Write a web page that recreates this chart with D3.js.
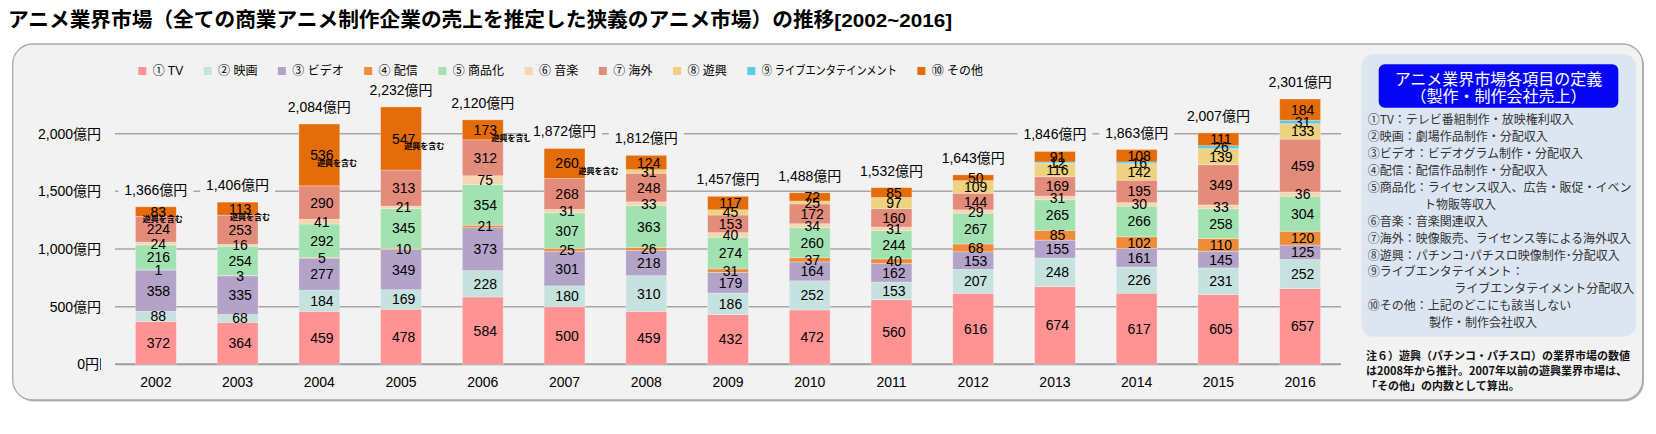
<!DOCTYPE html>
<html><head><meta charset="utf-8">
<script src="https://cdn.jsdelivr.net/npm/d3@7"></script>
<style>
html,body{margin:0;padding:0;background:#fff;}
svg{display:block;}
text{font-family:'Liberation Sans','Noto Sans CJK JP',sans-serif;}
.jp{font-family:'Noto Sans CJK JP','Liberation Sans',sans-serif;}
</style></head>
<body>
<svg id="chart" width="1656" height="434"></svg>
<script>
// ---------- DATA ----------
const years = ["2002","2003","2004","2005","2006","2007","2008","2009","2010","2011","2012","2013","2014","2015","2016"];
const seriesNames = ["① TV","② 映画","③ ビデオ","④ 配信","⑤ 商品化","⑥ 音楽","⑦ 海外","⑧ 遊興","⑨ ライブエンタテインメント","⑩ その他"];
const seriesColors = ["#ff9393","#c6e2de","#b3a3c8","#ee8c3a","#a2e2b1","#f6d5b2","#e38c7c","#eed27f","#5cc9e9","#e46c0a"];
const tv      = [372,364,459,478,584,500,459,432,472,560,616,674,617,605,657];
const eiga    = [ 88, 68,184,169,228,180,310,186,252,153,207,248,226,231,252];
const video   = [358,335,277,349,373,301,218,179,164,162,153,155,161,145,125];
const haishin = [  1,  3,  5, 10, 21, 25, 26, 31, 37, 40, 68, 85,102,110,120];
const shohin  = [216,254,292,345,354,307,363,274,260,244,267,265,266,258,304];
const ongaku  = [ 24, 16, 41, 21, 75, 31, 33, 40, 34, 31, 29, 31, 30, 33, 36];
const kaigai  = [224,253,290,313,312,268,248,153,172,160,144,169,195,349,459];
const yukyo   = [  0,  0,  0,  0,  0,  0, 31, 45, 25, 97,109,116,142,139,133];
const live    = [  0,  0,  0,  0,  0,  0,  0,  0,  0,  0,  0, 12, 16, 26, 31];
const sonota  = [ 83,113,536,547,173,260,124,117, 72, 85, 50, 91,108,111,184];
const series = [tv,eiga,video,haishin,shohin,ongaku,kaigai,yukyo,live,sonota];
const yTickValues = [0,500,1000,1500,2000];
const yTickLabels = ["0円","500億円","1,000億円","1,500億円","2,000億円"];
const titleMain = "アニメ業界市場（全ての商業アニメ制作企業の売上を推定した狭義のアニメ市場）の推移";
const titleSub = "[2002~2016]";
const yukyoNote = "遊興を含む";
const defTitle = ["アニメ業界市場各項目の定義","（製作・制作会社売上）"];
const defLines = [
  ["①TV：テレビ番組制作・放映権利収入",0],
  ["②映画：劇場作品制作・分配収入",0],
  ["③ビデオ：ビデオグラム制作・分配収入",0],
  ["④配信：配信作品制作・分配収入",0],
  ["⑤商品化：ライセンス収入、広告・販促・イベン",0],
  ["ト物販等収入",1],
  ["⑥音楽：音楽関連収入",0],
  ["⑦海外：映像販売、ライセンス等による海外収入",0],
  ["⑧遊興：パチンコ･パチスロ映像制作･分配収入",0],
  ["⑨ライブエンタテイメント：",0],
  ["ライブエンタテイメント分配収入",2],
  ["⑩その他：上記のどこにも該当しない",0],
  ["製作・制作会社収入",3]
];
const noteLines = ["注６）遊興（パチンコ・パチスロ）の業界市場の数値","は2008年から推計。2007年以前の遊興業界市場は、","「その他」の内数として算出。"];

// ---------- LAYOUT ----------
const svg = d3.select("#chart");
const keys = series.map((_,i)=>"s"+i);
const table = years.map((y,j)=>{const r={year:y}; series.forEach((s,i)=>r["s"+i]=s[j]); return r;});
const stacked = d3.stack().keys(keys)(table);
const totals = years.map((y,j)=>d3.sum(series,s=>s[j]));

const x = d3.scaleBand().domain(years).range([115,1341]).paddingInner(0.5).paddingOuter(0.25);
const y = d3.scaleLinear().domain([0,2000]).range([364.3,133.7]);

// title
const title = svg.append("text").attr("x",8).attr("y",27).attr("font-weight","bold").attr("fill","#000");
title.append("tspan").attr("class","jp").attr("font-size","20.7px").text(titleMain);
title.append("tspan").attr("font-size","18px").attr("font-family","'Liberation Sans Narrow','Liberation Sans',sans-serif")
  .attr("textLength",118).attr("lengthAdjust","spacingAndGlyphs").text(titleSub);

// panel
svg.append("rect").attr("x",14).attr("y",45.5).attr("width",1630).attr("height",356).attr("rx",20).attr("fill","#b5b5b5");
svg.append("rect").attr("x",12.7).attr("y",44).attr("width",1630).attr("height",356).attr("rx",20)
  .attr("fill","#f2f2f2").attr("stroke","#a8a8a8").attr("stroke-width",1.3);

// gridlines
svg.append("g").selectAll("line").data(yTickValues).join("line")
  .attr("x1",115).attr("x2",1341).attr("y1",d=>y(d)).attr("y2",d=>y(d))
  .attr("stroke",d=>d===0?"#9c9c9c":"#a6a6a6").attr("stroke-width",d=>d===0?2:1.5);

// y labels
svg.append("g").selectAll("text").data(yTickValues).join("text")
  .attr("x",(d,i)=>i===0?99:101).attr("y",d=>y(d)).attr("dy","0.35em").attr("text-anchor","end")
  .attr("font-size","14px").attr("fill","#000").text((d,i)=>yTickLabels[i]);
svg.append("line").attr("x1",100.5).attr("x2",100.5).attr("y1",358.3).attr("y2",370).attr("stroke","#1f4e9a").attr("stroke-width",1);

// bars
const gBars = svg.append("g");
stacked.forEach((layer,i)=>{
  gBars.append("g").selectAll("rect").data(layer).join("rect")
    .attr("x",d=>x(d.data.year)).attr("width",x.bandwidth())
    .attr("y",d=>y(d[1])).attr("height",d=>Math.max(0,y(d[0])-y(d[1])))
    .attr("fill",seriesColors[i]).attr("stroke","rgba(255,255,255,0.35)").attr("stroke-width",0.8);
});
// value labels
stacked.forEach((layer,i)=>{
  gBars.append("g").selectAll("text").data(layer.filter(d=>d[1]-d[0]>0)).join("text")
    .attr("x",d=>x(d.data.year)+x.bandwidth()/2+2.5).attr("y",d=>y((d[0]+d[1])/2)).attr("dy","0.36em")
    .attr("text-anchor","middle").attr("font-size","14px").attr("fill","#000").text(d=>d[1]-d[0]);
});
// 遊興を含む notes
const last = stacked[stacked.length-1];
years.forEach((yr,j)=>{
  if(yukyo[j]===0){
    const d = last[j];
    svg.append("text").attr("class","jp")
      .attr("x",x(yr)+x.bandwidth()/2-13+5.4*j).attr("y",y((d[0]+d[1])/2)+8).attr("dy","0.35em")
      .attr("font-size","8px").attr("font-weight","bold").attr("fill","#000").text(yukyoNote);
  }
});

// total labels
const gTot = svg.append("g");
years.forEach((yr,j)=>{
  const cx = x(yr)+x.bandwidth()/2, cy = y(totals[j])-17;
  const bg = gTot.append("rect").attr("fill","#f2f2f2");
  const t = gTot.append("text").attr("x",cx).attr("y",cy).attr("dy","0.36em").attr("text-anchor","middle")
    .attr("font-size","14px").attr("fill","#000").text(d3.format(",")(totals[j])+"億円");
  const w = t.node().getComputedTextLength();
  bg.attr("x",cx-w/2-6).attr("y",cy-9).attr("width",w+12).attr("height",18);
});

// year labels
svg.append("g").selectAll("text").data(years).join("text")
  .attr("x",d=>x(d)+x.bandwidth()/2).attr("y",382.3).attr("dy","0.36em").attr("text-anchor","middle")
  .attr("font-size","14px").attr("fill","#000").text(d=>d);

// legend
let lx = 138.3;
const gLeg = svg.append("g");
seriesNames.forEach((n,i)=>{
  gLeg.append("rect").attr("x",lx).attr("y",67).attr("width",8).attr("height",8).attr("fill",seriesColors[i]);
  const t = gLeg.append("text").attr("x",lx+14.4).attr("y",71).attr("dy","0.36em").attr("font-size","12px").attr("fill","#000").text(n);
  let w = t.node().getComputedTextLength();
  if (w > 120) { w = w*0.85; t.attr("textLength",w).attr("lengthAdjust","spacingAndGlyphs"); }
  lx += 14.4 + w + 20.5;
});

// definition box
svg.append("rect").attr("x",1361.3).attr("y",54.3).attr("width",274.7).attr("height",282.4).attr("rx",12).attr("fill","#dce6f2");
svg.append("rect").attr("x",1378.7).attr("y",64.3).attr("width",239.6).attr("height",43.4).attr("rx",6).attr("fill","#0606f4");
defTitle.forEach((t,i)=>{
  svg.append("text").attr("class","jp").attr("x",1498.5).attr("y",79+i*17.7).attr("dy","0.36em").attr("text-anchor","middle")
    .attr("font-size","16px").attr("fill","#fff").text(t);
});
const indentX = [1367.7,1424,1454.3,1429];
defLines.forEach((l,i)=>{
  svg.append("text").attr("class","jp").attr("x",indentX[l[1]]).attr("y",120+i*16.9).attr("dy","0.36em")
    .attr("font-size","12px").attr("fill","#333").text(l[0]);
});
noteLines.forEach((l,i)=>{
  svg.append("text").attr("class","jp").attr("x",1366).attr("y",355.7+i*15).attr("dy","0.36em")
    .attr("font-size","11px").attr("font-weight","bold").attr("fill","#111").text(l);
});
</script>
</body></html>
